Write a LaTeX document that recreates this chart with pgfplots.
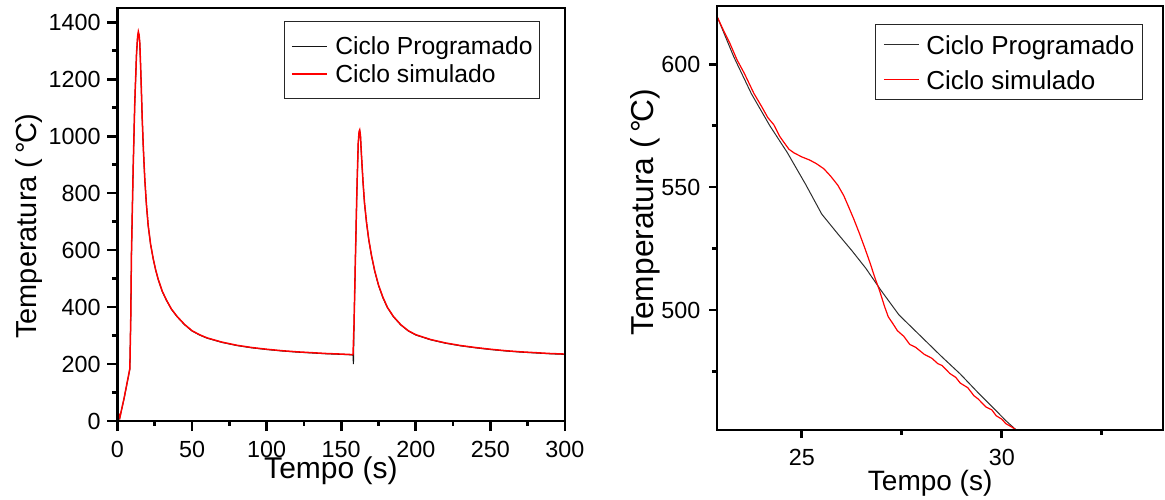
\documentclass[border=0pt]{standalone}
\usepackage{fontspec}
\setmainfont{Liberation Sans}
\usepackage{pgfplots}
\usepackage{pgfplotstable}
\pgfplotsset{compat=1.18}

\definecolor{simred}{RGB}{255,0,0}
\definecolor{progblack}{RGB}{20,20,20}
\definecolor{proggray}{RGB}{45,45,45}

% full thermal cycle, programmed
\pgfplotstableread{
t T
0 27
0.7 24
1.5 10
4.5 80
8.3 182
8.9 355
9.4 590
10.5 880
11.6 1115
12.8 1290
13.5 1345
14.0 1362
14.5 1352
15.0 1322
15.8 1200
16.6 1060
17.4 950
18.3 850
19.4 760
20.6 685
22.2 620
24.0 568
25.6 530
27.3 497
30.0 455
32.9 423
36.2 392
40 366
45 338
50 316
55 302
60 291
70 276
80 265
90 257
100 251
110 246
120 242
130 239
140 236
150 234
157.9 232
158.2 200
158.6 330
159.5 560
160.5 800
161.4 970
162.0 1012
162.4 1018
162.9 1000
163.6 930
164.6 840
165.6 765
167.0 695
168.5 635
170.3 580
172.5 525
175 476
178 432
181 398
185 366
190 337
195 316
200 302
210 285
220 273
230 264
240 257
250 251
260 246
270 242
280 239
290 236
300 234
}\progfull

% full thermal cycle, simulated
\pgfplotstableread{
t T
0 29
0.7 26
1.6 12
4.5 82
8.3 184
8.9 358
9.4 592
10.5 882
11.6 1118
12.8 1293
13.5 1350
14.0 1367
14.5 1356
15.0 1326
15.8 1203
16.6 1062
17.4 952
18.3 852
19.4 762
20.6 687
22.2 621
24.0 569
25.6 531
27.3 498
30.0 456
32.9 424
36.2 393
40 367
45 339
50 317
55 303
60 292
70 277
80 266
90 258
100 252
110 247
120 243
130 240
140 237
150 235
157.9 233
158.6 340
159.5 565
160.5 805
161.4 975
162.0 1017
162.4 1022
162.9 1004
163.6 934
164.6 843
165.6 768
167.0 697
168.5 637
170.3 582
172.5 527
175 478
178 434
181 399
185 367
190 338
195 317
200 303
210 286
220 274
230 265
240 258
250 252
260 247
270 243
280 240
290 237
300 235
}\simfull

% cooling stretch after the first peak, programmed
\pgfplotstableread{
t T
22.88 619.5
23.30 603
23.74 588
24.20 575
24.64 564
25.10 551
25.50 539
25.90 531
26.26 524
26.60 517
26.98 508
27.43 498
28.06 488
28.50 481
28.96 474
29.40 466.5
29.86 459
30.10 455
30.36 451.2
}\progzoom

% cooling stretch after the first peak, simulated
\pgfplotstableread{
t T
22.88 619.5
23.05 613.5
23.20 608.6
23.38 601.8
23.56 596.4
23.80 588.2
24.01 582.4
24.15 578.3
24.30 575.4
24.45 570.6
24.55 568.3
24.68 565.4
24.80 564.0
25.00 562.3
25.20 561.0
25.36 559.6
25.55 557.5
25.72 554.5
25.90 550.8
26.05 546.5
26.17 542.0
26.30 537.0
26.44 531.2
26.58 525.0
26.71 519.0
26.83 513.0
26.94 508.1
27.07 501.4
27.16 497.3
27.28 494.4
27.39 491.6
27.55 489.3
27.70 486.0
27.85 484.8
28.06 482.0
28.25 480.4
28.40 478.2
28.51 477.4
28.70 474.2
28.85 472.6
28.96 470.3
29.15 468.4
29.30 465.2
29.41 463.8
29.60 460.6
29.75 459.4
29.86 457.0
30.00 455.6
30.10 453.8
30.25 452.4
30.36 451.2
}\simzoom

\pgfplotsset{
  cycleaxis/.style={
    scale only axis,
    anchor=south west,
    tick align=outside,
    tick pos=left,
    minor tick num=1,
    clip=false,
    /pgf/number format/assume math mode=true,
    /pgf/number format/1000 sep={},
    legend cell align=left,
  },
}

\begin{document}
\begin{tikzpicture}
\useasboundingbox (0,0) rectangle (873.75pt,375pt);

% whole cycle
\begin{axis}[
  cycleaxis,
  at={(88.1pt,59.25pt)},
  width=335.6pt, height=309.75pt,
  line width=2pt,
  axis line style={line width=2pt, black},
  tick style={line width=2pt, black},
  major tick style={line width=2pt, black},
  minor tick style={line width=2pt, black},
  legend image code/.code={\draw[#1] (0pt,0pt) -- (26pt,0pt);},
  xmin=0, xmax=300, ymin=0, ymax=1450,
  xtick={0,50,...,300},
  ytick={0,200,...,1400},
  major tick length=7.5pt,
  minor tick length=3.75pt,
  ticklabel style={font=\fontsize{17.5}{20}\selectfont},
  xticklabel style={inner sep=0pt, yshift=-6.5pt},
  yticklabel style={inner sep=0pt, xshift=-4.2pt},
  xlabel={Tempo (s)},
  ylabel={Temperatura (\,°\kern-0.06em C)},
  xlabel style={font=\fontsize{22.5}{26}\selectfont,
    at={(axis description cs:0.477,0)}, anchor=base, yshift=-43.5pt},
  ylabel style={font=\fontsize{21.7}{26}\selectfont,
    at={(axis description cs:-0.181,0.472)}, anchor=base},
  legend style={
    at={(axis description cs:0.944,0.9685)}, anchor=north east,
    draw=black!85, line width=0.75pt,
    font=\fontsize{18.5}{22}\selectfont,
    inner xsep=5pt, inner ysep=8pt,
    nodes={inner xsep=0pt, inner ysep=0pt, text height=17pt, text depth=4pt},
    /tikz/every odd column/.append style={column sep=6pt},
  },
]
\addplot[progblack, line width=0.8pt] table[x=t, y=T] {\progfull};
\addlegendentry{Ciclo Programado}
\addplot[simred, line width=1.1pt] table[x=t, y=T] {\simfull};
\addlegendentry{Ciclo simulado}
% heavy frame round the plotting area
\draw[line width=2pt, black, line join=miter]
  (rel axis cs:0,0) rectangle (rel axis cs:1,1);
\end{axis}

% detail of the cooling stretch
\begin{axis}[
  cycleaxis,
  at={(537.75pt,52.5pt)},
  width=334.5pt, height=318pt,
  line width=2pt,
  axis line style={line width=2pt, black},
  tick style={line width=2pt, black},
  major tick style={line width=2pt, black},
  minor tick style={line width=2pt, black},
  legend image code/.code={\draw[#1, line width=1.1pt] (0pt,0pt) -- (26pt,0pt);},
  xmin=22.88, xmax=34.03, ymin=451.2, ymax=623.7,
  xtick={25,30},
  ytick={500,550,600},
  minor xtick={27.5,32.5},
  minor ytick={475,525,575},
  minor tick num=0,
  major tick length=6pt,
  minor tick length=3.5pt,
  ticklabel style={font=\fontsize{17.5}{20}\selectfont},
  xticklabel style={inner sep=0pt, yshift=-7.5pt},
  yticklabel style={inner sep=0pt, xshift=-5.5pt},
  xlabel={Tempo (s)},
  ylabel={Temperatura (\,°\kern-0.06em C)},
  xlabel style={font=\fontsize{21}{25}\selectfont,
    at={(axis description cs:0.478,0)}, anchor=base, yshift=-45.5pt},
  ylabel style={font=\fontsize{23.8}{28}\selectfont,
    at={(axis description cs:-0.1435,0.514)}, anchor=base},
  legend style={
    at={(axis description cs:0.955,0.9575)}, anchor=north east,
    draw=black!85, line width=0.75pt,
    font=\fontsize{19.5}{23}\selectfont,
    inner xsep=6pt, inner ysep=1.8pt,
    nodes={inner xsep=0pt, inner ysep=0pt, text height=20.6pt, text depth=5.6pt},
    /tikz/every odd column/.append style={column sep=5.25pt},
  },
]
\addplot[proggray, line width=0.75pt] table[x=t, y=T] {\progzoom};
\addlegendentry{Ciclo Programado}
\addplot[simred, line width=0.9pt] table[x=t, y=T] {\simzoom};
\addlegendentry{Ciclo simulado}
% heavy frame round the plotting area
\draw[line width=2pt, black, line join=miter]
  (rel axis cs:0,0) rectangle (rel axis cs:1,1);
\end{axis}
\end{tikzpicture}
\end{document}
